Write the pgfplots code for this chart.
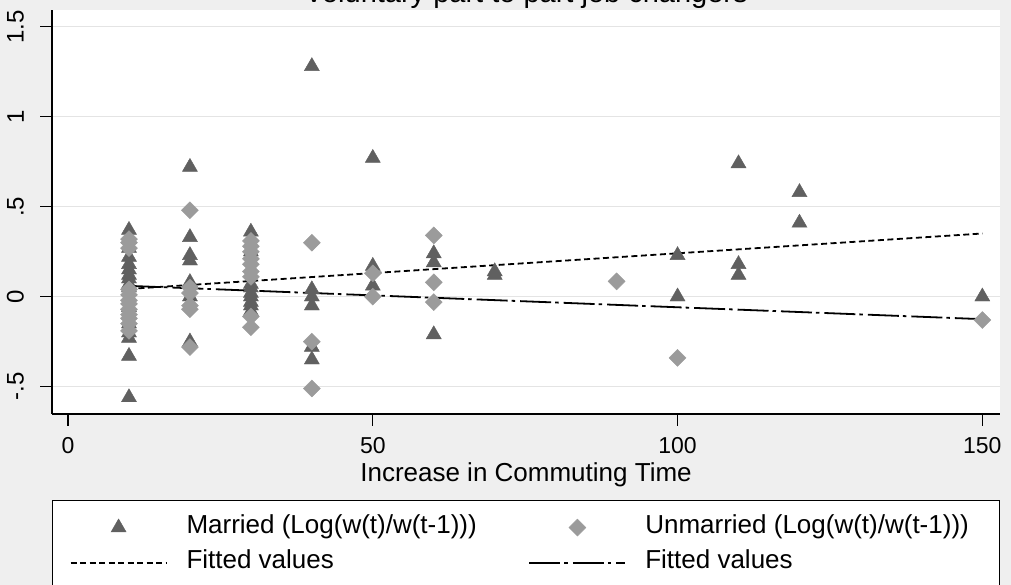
\documentclass[border=0pt]{standalone}
\usepackage{pgfplots}
\pgfplotsset{compat=1.18}
\usepackage{fontspec}
\setmainfont{Liberation Sans}
\definecolor{bggray}{RGB}{239,239,239}
\definecolor{gridgray}{RGB}{228,228,228}
\definecolor{mardark}{RGB}{96,96,96}
\definecolor{unmlight}{RGB}{155,155,155}
\pgfplotsset{
  markimg/.style={legend image code/.code={\path (0pt,0pt) (96pt,0pt); \draw[##1] plot coordinates {(48pt,0pt)};}},
  lineimg/.style={legend image code/.code={\draw[##1] (0pt,0pt) -- (96pt,0pt);}},
}
\pgfplotstableread{
x y
10 0.37
10 0.32
10 0.27
10 0.22
10 0.18
10 0.15
10 0.12
10 0.10
10 0.07
10 0.05
10 0.03
10 -0.02
10 -0.06
10 -0.10
10 -0.15
10 -0.20
10 -0.23
10 -0.33
10 -0.56
20 0.72
20 0.33
20 0.23
20 0.20
20 0.08
20 0.00
20 -0.25
30 0.36
30 0.30
30 0.25
30 0.07
30 0.05
30 0.02
30 0.00
30 -0.03
30 -0.05
30 -0.08
40 1.28
40 0.04
40 0.00
40 -0.05
40 -0.28
40 -0.35
50 0.77
50 0.17
50 0.06
60 0.24
60 0.19
60 -0.21
70 0.14
70 0.12
100 0.23
100 0.00
110 0.74
110 0.18
110 0.12
120 0.58
120 0.41
150 0.00
}\married
\pgfplotstableread{
x y
10 0.32
10 0.30
10 0.27
10 0.04
10 0.01
10 -0.02
10 -0.04
10 -0.07
10 -0.10
10 -0.12
10 -0.15
10 -0.19
20 0.48
20 0.05
20 0.02
20 -0.05
20 -0.07
20 -0.28
30 0.31
30 0.28
30 0.25
30 0.21
30 0.18
30 0.14
30 0.11
30 -0.11
30 -0.17
40 0.30
40 -0.25
40 -0.51
50 0.13
50 0.00
60 0.34
60 0.08
60 -0.03
90 0.085
100 -0.34
150 -0.13
}\unmarried
\begin{document}
\begin{tikzpicture}
\fill[bggray] (0pt,0pt) rectangle (1011pt,585pt);
\begin{axis}[
  at={(52pt,171pt)}, anchor=south west,
  scale only axis, width=948pt, height=404pt,
  xmin=-2.63, xmax=152.9, ymin=-0.652, ymax=1.593,
  axis background/.style={fill=white},
  axis lines=left, axis line style={-, line width=1.3pt, black},
  xtick={0,50,100,150}, xticklabels={0,50,100,150},
  ytick={-0.5,0,0.5,1,1.5}, yticklabels={-.5,0,.5,1,1.5},
  tick align=outside, major tick length=12pt,
  tick style={black, line width=1.3pt},
  ymajorgrids, grid style={gridgray, line width=1.3pt},
  xticklabel style={font=\fontsize{23}{23}\selectfont, anchor=north, inner sep=0pt, yshift=-11pt},
  yticklabel style={font=\fontsize{24}{24}\selectfont, xshift=-16pt, rotate=90, anchor=south, inner sep=0pt},
  xlabel={Increase in Commuting Time},
  xlabel style={font=\fontsize{26}{26}\selectfont, at={(axis description cs:0.5,0)}, anchor=base, yshift=-68pt, inner sep=0pt},
  title={Voluntary part to part job changers},
  title style={font=\fontsize{29}{29}\selectfont, at={(axis description cs:0.5,1)}, anchor=base, yshift=1pt, inner sep=0pt},
  legend columns=2,
  legend cell align=left,
  legend style={at={(axis description cs:0.5,0)}, anchor=north, yshift=-86pt,
    draw=black, line width=1.2pt, fill=white, inner xsep=17pt, inner ysep=14pt,
    column sep=19pt, row sep=9pt, font=\fontsize{26}{26}\selectfont,
    nodes={inner sep=0pt, text height=19pt, text depth=7pt}},
]
\addplot[only marks, mark=triangle*, mark size=8.7pt, line width=0.4pt,
  mark options={fill=mardark, draw=mardark}, markimg]
  table[x=x, y=y] {\married};
\addlegendentry{\makebox[323pt][l]{Married (Log(w(t)/w(t-1)))}}
\addplot[only marks, mark=square*, mark size=6pt, line width=0.4pt,
  mark options={rotate=45, fill=unmlight, draw=unmlight}, markimg]
  table[x=x, y=y] {\unmarried};
\addlegendentry{\makebox[337pt][l]{Unmarried (Log(w(t)/w(t-1)))}}
\addplot[black, line width=1.8pt, dash pattern=on 6pt off 3.5pt, lineimg]
  coordinates {(10,0.043) (150,0.351)};
\addlegendentry{Fitted values}
\addplot[black, line width=1.8pt, dash pattern=on 31pt off 4pt on 3.5pt off 5pt, lineimg]
  coordinates {(10,0.060) (150,-0.125)};
\addlegendentry{Fitted values}
\end{axis}
\pgfresetboundingbox
\path[use as bounding box] (0pt,0pt) rectangle (1011pt,585pt);
\end{tikzpicture}
\end{document}
